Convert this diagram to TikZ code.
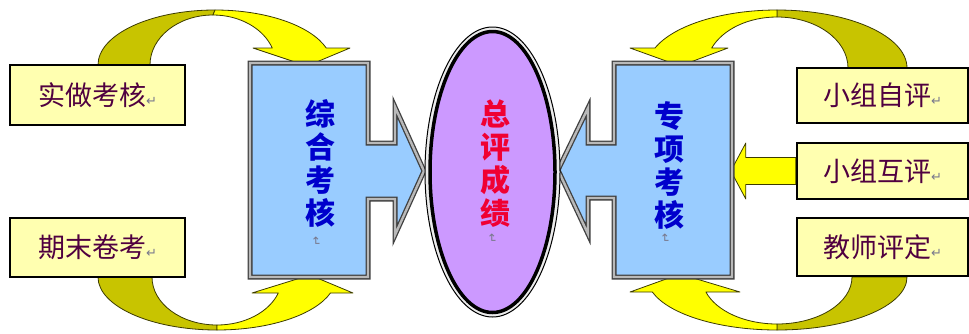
\documentclass[tikz,border=0pt]{standalone}
\usepackage{fontspec}
\usetikzlibrary{shapes.geometric}
\newfontfamily\cjk{Noto Sans CJK SC}
\newfontfamily\dvs{DejaVu Sans}
\definecolor{ybfill}{RGB}{255,255,176}
\definecolor{ytext}{RGB}{80,0,64}
\definecolor{arrY}{RGB}{255,255,0}
\definecolor{arrO}{RGB}{200,196,0}
\definecolor{bfill}{RGB}{153,204,255}
\definecolor{vfill}{RGB}{204,153,255}
\definecolor{btext}{RGB}{0,0,204}
\definecolor{rtext}{RGB}{240,0,50}
\definecolor{markgray}{RGB}{120,120,140}
\tikzset{
 ybox/.style={draw=black, line width=2.4pt, fill=ybfill, inner sep=0pt, font=\cjk\fontsize{27}{27}\selectfont, text=ytext},
 bluebox/.style={fill=bfill, draw=black!75, line width=1.3pt, double=gray!55, double distance=2.4pt, line join=miter},
 olivepart/.style={fill=arrO, draw=black!70!arrO, line width=0.8pt, line join=round},
 yelpart/.style={fill=arrY, draw=black!70!arrO, line width=0.8pt, line join=round},
 vtext/.style={align=center, inner sep=0pt, font=\cjk\bfseries\fontsize{30}{33}\selectfont},
 pmark/.style={text=markgray, font=\dvs\fontsize{12}{12}\selectfont, rotate=-90, inner sep=0pt},
}
\newcommand\retm{{\dvs\fontsize{13}{13}\selectfont\textcolor{markgray}{↵}}}
\begin{document}
\begin{tikzpicture}[x=1pt,y=-1pt]
\useasboundingbox (0,0) rectangle (969,333);
% ---------- curved arrows ----------
% top left
\begin{scope}[shift={(215,65)}, yscale=-1]
 \draw[olivepart] (-117,0) arc[start angle=180, end angle=90, x radius=117, y radius=55]
   -- (-2,50) arc[start angle=90, end angle=180, x radius=63, y radius=50] -- cycle;
 \draw[yelpart] (0,55) arc[start angle=90, end angle={asin(17/55)}, x radius=117, y radius=55]
   -- (135,17) -- (92,-1) -- (38,17) -- ({-2+63*cos(asin(17/50))},17)
   arc[start angle={asin(17/50)}, end angle=90, x radius=63, y radius=50] -- cycle;
\end{scope}
% bottom left
\begin{scope}[shift={(217,277)}]
 \draw[olivepart] (-119,0) arc[start angle=180, end angle=90, x radius=119, y radius=53]
   -- (0,48) arc[start angle=90, end angle=180, x radius=65, y radius=48] -- cycle;
 \draw[yelpart] (0,53) arc[start angle=90, end angle={asin(16/53)}, x radius=119, y radius=53]
   -- (136,16) -- (93,-2) -- (35,16) -- ({65*cos(asin(16/48))},16)
   arc[start angle={asin(16/48)}, end angle=90, x radius=65, y radius=48] -- cycle;
\end{scope}
% top right
\begin{scope}[shift={(777,68)}, xscale=-1, yscale=-1]
 \draw[olivepart] (-130,0) arc[start angle=180, end angle=90, x radius=130, y radius=58]
   -- (0,51) arc[start angle=90, end angle=180, x radius=71, y radius=51] -- cycle;
 \draw[yelpart] (0,58) arc[start angle=90, end angle={asin(20/58)}, x radius=130, y radius=58]
   -- (147,20) -- (97,2) -- (49,20) -- ({71*cos(asin(20/51))},20)
   arc[start angle={asin(20/51)}, end angle=90, x radius=71, y radius=51] -- cycle;
\end{scope}
% bottom right
\begin{scope}[shift={(777,277)}, xscale=-1]
 \draw[olivepart] (-130,0) arc[start angle=180, end angle=90, x radius=130, y radius=53]
   -- (0,47) arc[start angle=90, end angle=180, x radius=75, y radius=47] -- cycle;
 \draw[yelpart] (0,53) arc[start angle=90, end angle={asin(15/53)}, x radius=130, y radius=53]
   -- (147,15) -- (97,-3) -- (37,15) -- ({75*cos(asin(15/47))},15)
   arc[start angle={asin(15/47)}, end angle=90, x radius=75, y radius=47] -- cycle;
\end{scope}
% ---------- text boxes ----------
\node[ybox, minimum width=175pt, minimum height=60pt] (sz) at (97.5,95) {实做考核\retm};
\node[ybox, minimum width=175pt, minimum height=59pt] (qm) at (97.5,247.5) {期末卷考\retm};
\node[ybox, minimum width=171pt, minimum height=55pt] (zz) at (882.5,95.5) {小组自评\retm};
\node[ybox, minimum width=171pt, minimum height=56pt] (hz) at (882.5,171) {小组互评\retm};
\node[ybox, minimum width=171pt, minimum height=58pt] (js) at (882.5,247) {教师评定\retm};
% middle straight arrow
\draw[yelpart] (hz.west) ++(0,-13.5) -- ++(-50,0) -- ++(0,-14.5) -- ++(-15,28)
  -- ++(15,28) -- ++(0,-14.5) -- ++(50,0) -- cycle;
% ---------- blue callout boxes ----------
\draw[bluebox] (250,63) -- (368,63) -- (368,143) -- (395,143) -- (395,107) -- (424,171)
  -- (395,235) -- (395,199) -- (368,199) -- (368,277) -- (250,277) -- cycle;
\draw[bluebox] (732,63) -- (614,63) -- (614,143) -- (588,143) -- (588,108) -- (558,170)
  -- (588,234) -- (588,198) -- (614,198) -- (614,277) -- (732,277) -- cycle;
% ---------- ellipse ----------
\node[ellipse, draw=black, line width=1pt, fill=gray!15, minimum width=135pt, minimum height=290pt, inner sep=0pt] (ellout) at (492.5,172) {};
\node[ellipse, draw=black, line width=3.5pt, fill=vfill, minimum width=125pt, minimum height=281pt, inner sep=0pt] (ellin) at (492.5,172) {};
% ---------- vertical texts ----------
\node[vtext, text=btext] (zh) at (320,163.5) {综\\合\\考\\核};
\node[vtext, text=rtext] (zp) at (495,163.5) {总\\评\\成\\绩};
\node[vtext, text=btext] (zx) at (669,165) {专\\项\\考\\核};
\node[pmark] (m1) at (316,242) {↵};
\node[pmark] (m2) at (492,239) {↵};
\node[pmark] (m3) at (665,239) {↵};
\end{tikzpicture}
\end{document}
